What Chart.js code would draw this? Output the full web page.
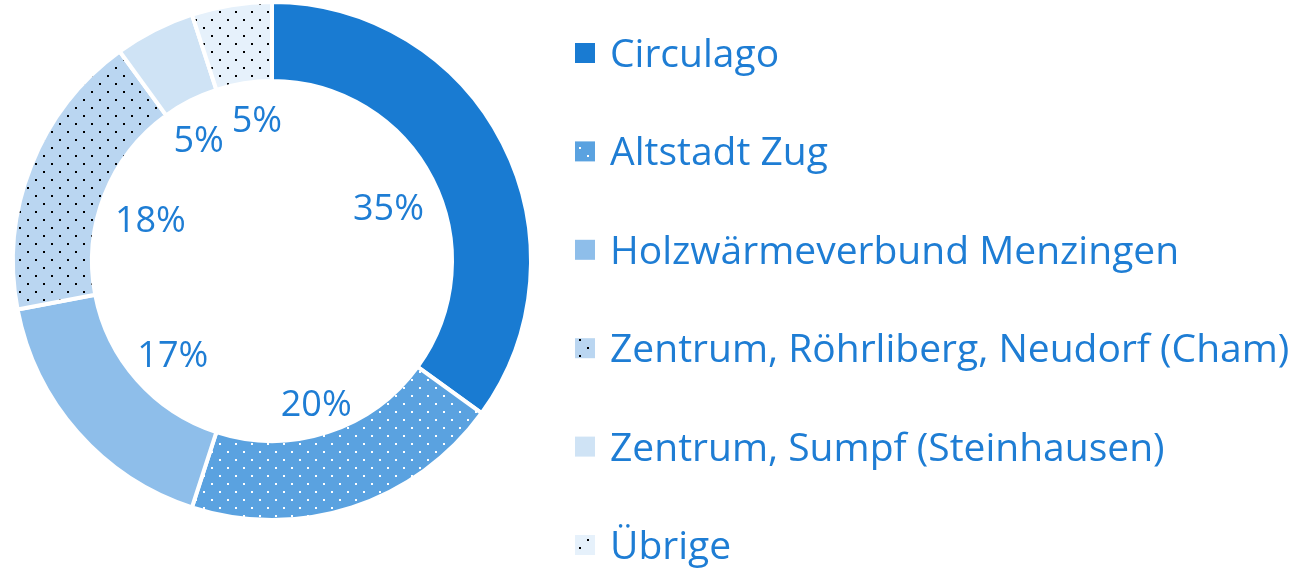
<!DOCTYPE html>
<html>
<head>
<meta charset="utf-8">
<script src="https://cdn.jsdelivr.net/npm/chart.js@4"></script>
<style>
  html, body { margin: 0; padding: 0; background: #fff; }
  #wrap { width: 1311px; height: 569px; position: relative; }
</style>
</head>
<body>
<div id="wrap"><canvas id="myChart"></canvas></div>
<script>
// Data
const categories = [
	"Circulago",
	"Altstadt Zug",
	"Holzwärmeverbund Menzingen",
	"Zentrum, Röhrliberg, Neudorf (Cham)",
	"Zentrum, Sumpf (Steinhausen)",
	"Übrige"
];
const shares = [35, 20, 17, 18, 5, 5];
const shareLabels = ["35%", "20%", "17%", "18%", "5%", "5%"];

const textBlue = "#1E7DD4";
const fontFamily = "'Open Sans', 'Noto Sans', sans-serif";

// dotted fills like the Excel pattern fills
function dotPattern(bg, dot) {
	const tile = document.createElement("canvas");
	tile.width = 16;
	tile.height = 16;
	const t = tile.getContext("2d");
	t.fillStyle = bg;
	t.fillRect(0, 0, 16, 16);
	if (dot) {
		t.fillStyle = dot;
		t.fillRect(3, 3, 2, 2);
		t.fillRect(11, 11, 2, 2);
	}
	return t.createPattern(tile, "repeat");
}

const fills = [
	"#197BD2",
	dotPattern("#5AA2E0", "#FFFFFF"),
	"#8EBEEA",
	dotPattern("#BAD6F1", "#000000"),
	"#CFE3F5",
	dotPattern("#E6F1FB", "#000000")
];

// labels inside the hole, pushed out toward the inner edge
const holeLabels = {
	id: "holeLabels",
	afterDatasetsDraw(chart) {
		const ctx = chart.ctx;
		const meta = chart.getDatasetMeta(0);
		ctx.save();
		ctx.font = "36px " + fontFamily;
		ctx.fillStyle = textBlue;
		ctx.textAlign = "center";
		ctx.textBaseline = "alphabetic";
		const capH = 36 * 0.714;
		const boxes = [];
		meta.data.forEach((arc, i) => {
			const p = arc.getProps(["x", "y", "startAngle", "endAngle", "innerRadius"], true);
			const mid = (p.startAngle + p.endAngle) / 2;
			const txt = shareLabels[i];
			const halfW = ctx.measureText(txt).width / 2;
			const halfH = capH / 2 + 4;
			const c = Math.cos(mid), s = Math.sin(mid);
			const extent = Math.abs(c) * halfW + Math.abs(s) * halfH;
			const r = p.innerRadius + 2 - 12 - extent;
			boxes.push({ txt, x: p.x + c * r, y: p.y + s * r, halfW, halfH });
		});
		// push neighbours apart sideways when they collide
		for (let i = 1; i < boxes.length; i++) {
			const a = boxes[i - 1], b = boxes[i];
			const overlapY = Math.abs(a.y - b.y) < a.halfH + b.halfH;
			const need = a.halfW + b.halfW + 8;
			const dx = b.x - a.x;
			if (overlapY && Math.abs(dx) < need) {
				const shift = (need - Math.abs(dx)) / 2;
				const dir = dx >= 0 ? 1 : -1;
				a.x -= shift * dir;
				b.x += shift * dir;
			}
		}
		boxes.forEach(b => ctx.fillText(b.txt, b.x, b.y + capH / 2 + 6));
		ctx.restore();
	}
};

// legend on the right, drawn from the same labels and fills
const sideLegend = {
	id: "sideLegend",
	afterDraw(chart) {
		const ctx = chart.ctx;
		const fillsUsed = chart.data.datasets[0].backgroundColor;
		ctx.save();
		ctx.font = "39px " + fontFamily;
		ctx.textAlign = "left";
		ctx.textBaseline = "alphabetic";
		const capH = 39 * 0.714;
		chart.data.labels.forEach((label, i) => {
			const cy = 53 + i * 98.4;
			ctx.fillStyle = fillsUsed[i];
			ctx.fillRect(575, cy - 10, 20, 20);
			ctx.fillStyle = textBlue;
			ctx.fillText(label, 610, cy + capH / 2);
		});
		ctx.restore();
	}
};

const ctx = document.getElementById("myChart").getContext("2d");
const myChart = new Chart(ctx, {
	type: "doughnut",
	data: {
		labels: categories,
		datasets: [
			{
				data: shares,
				backgroundColor: fills,
				borderColor: "#FFFFFF",
				borderWidth: 4,
				hoverOffset: 0
			}
		]
	},
	options: {
		responsive: true,
		maintainAspectRatio: false,
		animation: false,
		cutout: "69.5%",
		layout: {
			padding: { left: 10, right: 777, top: 0, bottom: 47 }
		},
		plugins: {
			legend: { display: false },
			tooltip: { enabled: false }
		}
	},
	plugins: [holeLabels, sideLegend]
});
</script>
</body>
</html>
